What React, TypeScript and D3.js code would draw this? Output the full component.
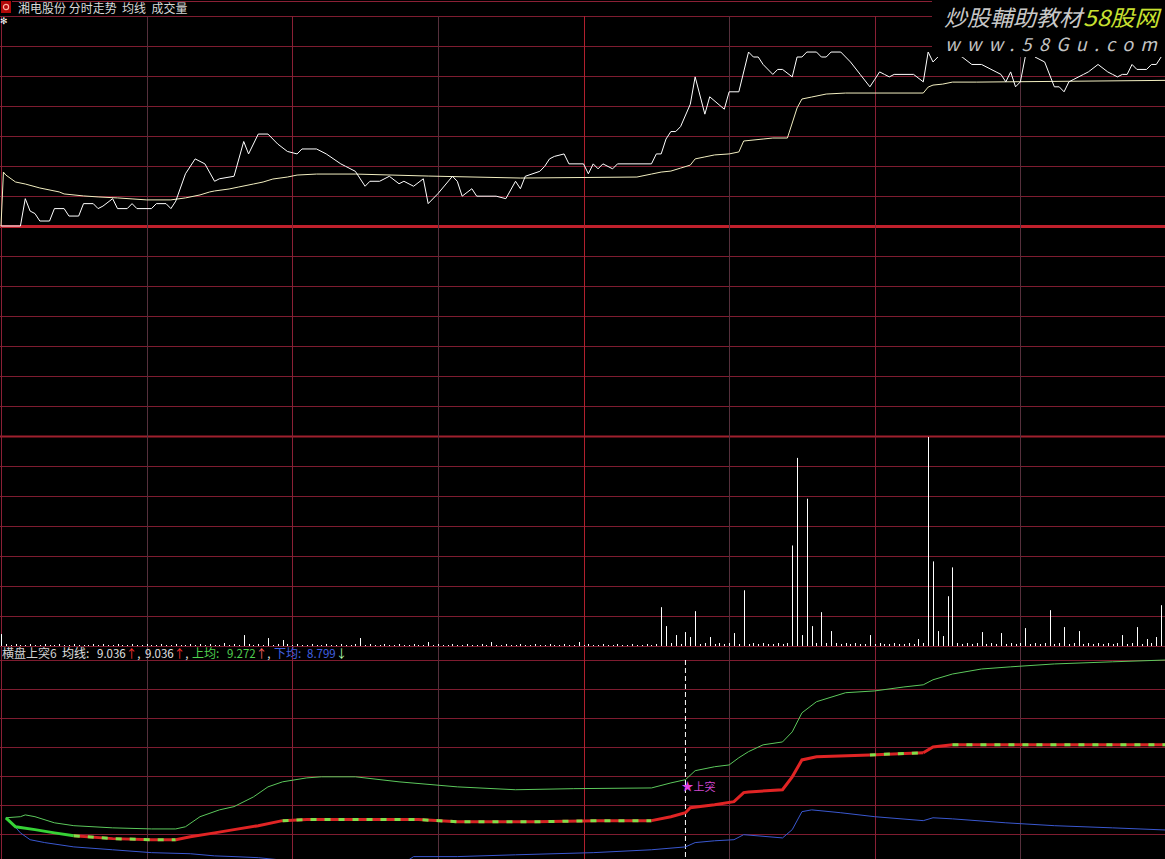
import React from 'react';
import * as d3 from 'd3';

const width = 1165;
const height = 859;

const title = '湘电股份 分时走势  均线  成交量';
const prevClose = 8.45;

// [minute, price]
const pricePoints: [number, number][] = [
  [0, 8.45], [4, 8.45], [5, 8.56], [6, 8.51], [7, 8.5], [8, 8.47], [10, 8.47], [11, 8.52], [13, 8.52], [14, 8.49],
  [16, 8.49], [17, 8.54], [19, 8.54], [20, 8.52], [21, 8.53], [23, 8.56], [24, 8.52], [26, 8.52], [27, 8.54], [28, 8.52],
  [31, 8.52], [32, 8.54], [34, 8.54], [35, 8.52], [36, 8.55], [38, 8.66], [40, 8.72], [42, 8.7], [44, 8.63], [45, 8.64],
  [48, 8.65], [50, 8.79], [51, 8.74], [53, 8.82], [55, 8.82], [57, 8.78], [59, 8.75], [61, 8.74], [62, 8.76], [65, 8.76],
  [67, 8.74], [70, 8.7], [71, 8.69], [73, 8.67], [75, 8.61], [76, 8.63], [78, 8.63], [80, 8.65], [82, 8.62], [83, 8.63],
  [85, 8.61], [87, 8.64], [88, 8.54], [90, 8.58], [93, 8.65], [94, 8.63], [95, 8.57], [97, 8.6], [98, 8.57], [102, 8.57],
  [104, 8.56], [106, 8.63], [107, 8.6], [108, 8.65], [111, 8.67], [112, 8.69], [113, 8.72], [114, 8.73], [116, 8.74], [117, 8.7],
  [120, 8.7], [121, 8.66], [122, 8.7], [123, 8.68], [124, 8.7], [126, 8.68], [127, 8.7], [134, 8.7], [135, 8.74], [136, 8.74],
  [137, 8.8], [138, 8.83], [139, 8.83], [140, 8.85], [142, 8.94], [143, 9.05], [145, 8.9], [146, 8.97], [149, 8.92], [150, 8.99],
  [152, 8.99], [154, 9.15], [155, 9.13], [156, 9.13], [157, 9.1], [159, 9.06], [160, 9.08], [161, 9.08], [163, 9.05], [164, 9.13],
  [165, 9.13], [166, 9.15], [168, 9.15], [169, 9.13], [170, 9.13], [171, 9.15], [173, 9.15], [175, 9.11], [177, 9.06], [179, 9.01],
  [180, 9.04], [181, 9.07], [182, 9.06], [183, 9.05], [184, 9.06], [188, 9.06], [190, 9.03], [191, 9.15], [192, 9.11], [193, 9.13],
  [195, 9.16], [198, 9.13], [200, 9.1], [202, 9.1], [205, 9.07], [206, 9.06], [207, 9.03], [208, 9.07], [209, 9.01], [210, 9.03],
  [211, 9.13], [212, 9.16], [213, 9.13], [215, 9.11], [217, 9.01], [218, 9.01], [219, 8.99], [220, 9.03], [221, 9.04], [223, 9.06],
  [224, 9.07], [226, 9.1], [228, 9.07], [229, 9.06], [230, 9.05], [231, 9.06], [232, 9.06], [233, 9.1], [234, 9.08], [236, 9.08],
  [237, 9.1], [238, 9.1], [239, 9.13],
];

const avgPoints: [number, number][] = [
  [0, 8.45], [0.5, 8.667], [1, 8.655], [3, 8.627], [5, 8.619], [8, 8.603], [12, 8.587], [13, 8.579], [17, 8.571], [20, 8.567],
  [24, 8.563], [27, 8.559], [30, 8.555], [35, 8.555], [38, 8.563], [41, 8.575], [43, 8.587], [44, 8.591], [47, 8.599], [49, 8.607],
  [52, 8.619], [54, 8.627], [56, 8.639], [59, 8.647], [61, 8.655], [65, 8.659], [73, 8.659], [88, 8.651], [107, 8.643], [131, 8.647],
  [134, 8.659], [136, 8.667], [138, 8.671], [140, 8.683], [142, 8.695], [143, 8.72], [145, 8.728], [147, 8.736], [150, 8.74], [152, 8.748],
  [153, 8.792], [157, 8.8], [159, 8.804], [162, 8.804], [164, 8.925], [165, 8.961], [167, 8.969], [170, 8.981], [174, 8.985], [190, 8.985],
  [191, 9.009], [192, 9.017], [194, 9.021], [196, 9.029], [201, 9.029], [240, 9.036],
];

// volume per minute
const volumes = [
  240, 40, 20, 40, 20, 20, 40, 20, 20, 40, 20, 20, 40, 20, 20, 40, 20, 20, 20, 40,
  20, 40, 20, 20, 40, 20, 20, 40, 20, 20, 40, 20, 20, 40, 20, 20, 40, 20, 20, 40,
  20, 40, 20, 40, 20, 20, 60, 20, 40, 20, 220, 40, 20, 40, 20, 160, 20, 40, 120, 40,
  20, 40, 20, 20, 40, 20, 20, 40, 20, 20, 40, 20, 20, 40, 160, 20, 40, 20, 20, 40,
  20, 20, 40, 20, 20, 40, 20, 20, 80, 20, 40, 20, 20, 40, 20, 20, 40, 20, 20, 40,
  20, 80, 20, 20, 40, 20, 20, 40, 20, 20, 40, 20, 20, 40, 20, 20, 40, 20, 20, 80,
  20, 40, 20, 20, 40, 20, 20, 40, 20, 20, 40, 20, 20, 40, 20, 40, 780, 400, 60, 220,
  40, 280, 180, 700, 40, 60, 180, 40, 60, 40, 60, 260, 40, 1120, 40, 60, 40, 60, 40, 40,
  60, 40, 60, 2020, 3780, 220, 2960, 400, 60, 680, 60, 300, 60, 40, 60, 40, 60, 40, 40, 220,
  40, 60, 40, 40, 60, 40, 40, 60, 40, 140, 60, 4200, 1700, 300, 200, 1000, 1580, 60, 40, 60,
  40, 60, 280, 40, 60, 40, 260, 40, 60, 40, 60, 360, 40, 60, 40, 60, 720, 40, 60, 380,
  40, 60, 300, 40, 60, 40, 60, 40, 60, 40, 60, 220, 40, 60, 380, 40, 140, 60, 180, 820,
  60,
];

// 横盘上突6 indicator
const upperBand: [number, number][] = [
  [1, 8.833], [4, 8.836], [5, 8.841], [7, 8.836], [11, 8.819], [15, 8.811], [23, 8.805], [31, 8.802], [36, 8.802], [38, 8.808],
  [41, 8.836], [45, 8.855], [48, 8.864], [52, 8.891], [55, 8.919], [58, 8.933], [63, 8.944], [66, 8.947], [73, 8.947], [82, 8.933],
  [94, 8.919], [106, 8.911], [118, 8.914], [134, 8.916], [138, 8.93], [141, 8.939], [143, 8.964], [147, 8.975], [150, 8.98], [152, 9.0],
  [154, 9.017], [157, 9.036], [161, 9.044], [163, 9.072], [165, 9.125], [168, 9.156], [174, 9.181], [180, 9.186], [186, 9.197], [190, 9.203],
  [192, 9.217], [196, 9.233], [202, 9.247], [208, 9.253], [217, 9.261], [229, 9.267], [240, 9.272],
];

const midLine: [number, number][] = [
  [1, 8.833], [3, 8.808], [7, 8.8], [11, 8.791], [15, 8.783], [23, 8.775], [31, 8.772], [36, 8.772], [39, 8.78], [44, 8.791],
  [48, 8.8], [53, 8.811], [58, 8.825], [63, 8.828], [86, 8.828], [94, 8.822], [110, 8.822], [123, 8.825], [134, 8.825], [138, 8.836],
  [141, 8.847], [142, 8.861], [147, 8.869], [151, 8.878], [153, 8.903], [154, 8.905], [161, 8.911], [163, 8.947], [165, 8.994], [168, 9.003],
  [179, 9.008], [190, 9.014], [192, 9.03], [196, 9.036], [240, 9.036],
];

const lowerBand: [number, number][] = [
  [1, 8.833], [2, 8.822], [4, 8.791], [6, 8.772], [9, 8.764], [15, 8.752], [23, 8.744], [31, 8.736], [39, 8.733], [44, 8.727],
  [48, 8.725], [53, 8.722], [61, 8.711], [72, 8.705], [84, 8.716], [85, 8.725], [94, 8.725], [106, 8.73], [122, 8.736], [134, 8.744],
  [141, 8.752], [143, 8.764], [147, 8.769], [151, 8.772], [153, 8.786], [161, 8.777], [163, 8.8], [165, 8.85], [167, 8.855], [173, 8.847],
  [180, 8.836], [190, 8.825], [192, 8.833], [196, 8.83], [207, 8.819], [217, 8.811], [229, 8.805], [240, 8.799],
];

// colour of the mid line by direction
const midSegments = [
  { from: 1, to: 15, kind: 'down' },
  { from: 15, to: 36, kind: 'flat' },
  { from: 36, to: 58, kind: 'up' },
  { from: 58, to: 134, kind: 'flat' },
  { from: 134, to: 179, kind: 'up' },
  { from: 179, to: 190, kind: 'flat' },
  { from: 190, to: 196, kind: 'up' },
  { from: 196, to: 240, kind: 'flat' },
];

const breakoutMinute = 141;
const gridMinutes = [0, 30, 60, 90, 120, 150, 180, 210, 240];

const font = '"Noto Sans CJK SC", "DejaVu Sans", sans-serif';

function App() {
  const x = d3.scaleLinear().domain([0, 240]).range([1, 1166]);
  const yPrice = d3.scaleLinear().domain([prevClose * 0.9, prevClose * 1.1]).range([436, 16]);
  const yVol = d3.scaleLinear().domain([0, 4200]).range([646, 437]);
  const yInd = d3.scaleLinear().domain([8.799, 9.272]).range([830, 660]);

  const priceLine = d3.line<[number, number]>().x(d => x(d[0])).y(d => yPrice(d[1]));
  const indLine = d3.line<[number, number]>().x(d => x(d[0])).y(d => yInd(d[1]));

  const rows = d3.range(0, 22).map(k => 16 + 30 * k);
  const lowRows = d3.range(0, 7).map(k => 660 + 29 * k);

  const last = midLine[midLine.length - 1][1].toFixed(3);
  const lastUp = upperBand[upperBand.length - 1][1].toFixed(3);
  const lastLow = lowerBand[lowerBand.length - 1][1].toFixed(3);

  return (
    <svg width={width} height={height} style={{ position: 'fixed', left: 0, top: 0, display: 'block' }}>
      <rect width={width} height={height} fill="#000" />

      {/* grid */}
      <line x1={0} x2={width} y1={1.5} y2={1.5} stroke="#8a2035" />
      {rows.map((y, i) => (
        <line key={'h' + i} x1={0} x2={width} y1={y + 0.5} y2={y + 0.5}
          stroke={i === 7 ? '#c0202c' : i === 14 ? '#a0202e' : '#7e1c30'}
          strokeWidth={i === 7 ? 3 : i === 14 ? 2 : 1} />
      ))}
      {lowRows.map((y, i) => (
        <line key={'l' + i} x1={0} x2={width} y1={y + 0.5} y2={y + 0.5} stroke="#7e1c30" />
      ))}
      {gridMinutes.map((m, i) => (
        <line key={'v' + i} x1={Math.round(x(m)) + 0.5} x2={Math.round(x(m)) + 0.5} y1={16} y2={height}
          stroke={i === 4 ? '#b0202e' : i % 2 === 0 ? '#8a2035' : '#55303c'} />
      ))}

      {/* volume */}
      {volumes.map((v, i) => (
        <line key={'b' + i} x1={Math.round(x(i)) + 0.5} x2={Math.round(x(i)) + 0.5}
          y1={yVol(0)} y2={yVol(v)} stroke="#fff" strokeWidth={1} />
      ))}

      {/* price & average */}
      <path d={priceLine(avgPoints) || ''} fill="none" stroke="#f2eec0" strokeWidth={1} />
      <path d={priceLine(pricePoints) || ''} fill="none" stroke="#ffffff" strokeWidth={1} />

      {/* indicator */}
      <line x1={x(breakoutMinute)} x2={x(breakoutMinute)} y1={660} y2={height}
        stroke="#fff" strokeDasharray="5 3" />
      <path d={indLine(upperBand) || ''} fill="none" stroke="#5cc85c" strokeWidth={1} />
      <path d={indLine(lowerBand) || ''} fill="none" stroke="#3a58d0" strokeWidth={1} />
      {midSegments.map((s, i) => {
        const pts = midLine.filter(p => p[0] >= s.from && p[0] <= s.to);
        const d = indLine(pts) || '';
        if (s.kind === 'down') return <path key={'m' + i} d={d} fill="none" stroke="#36d236" strokeWidth={3} />;
        if (s.kind === 'up') return <path key={'m' + i} d={d} fill="none" stroke="#e02424" strokeWidth={3} />;
        return (
          <g key={'m' + i}>
            <path d={d} fill="none" stroke="#d62424" strokeWidth={3} />
            <path d={d} fill="none" stroke="#7ee04a" strokeWidth={3} strokeDasharray="6 8" />
          </g>
        );
      })}
      <text x={x(breakoutMinute) - 4} y={791} fill="#e040e0" fontSize={12} fontFamily={font}>★</text>
      <text x={x(breakoutMinute) + 8} y={791} fill="#d048d0" fontSize={11} fontFamily={font}>上突</text>

      {/* lower header */}
      <g fontSize={12} fontFamily={font}>
        <text x={2} y={658} fill="#d0d0d0">横盘上突6</text>
        <text x={62} y={658} fill="#e0e0e0">均线:</text>
        <text x={97} y={658} fill="#e0e0e0" fontSize={11.5}>{last}<tspan fill="#ff3030">↑</tspan>,</text>
        <text x={145} y={658} fill="#e0e0e0" fontSize={11.5}>{last}<tspan fill="#ff3030">↑</tspan>,</text>
        <text x={192} y={658} fill="#50d050">上均:</text>
        <text x={227} y={658} fill="#50d050" fontSize={11.5}>{lastUp}<tspan fill="#ff6060">↑</tspan><tspan fill="#e0e0e0">,</tspan></text>
        <text x={274} y={658} fill="#4060e0">下均:</text>
        <text x={307} y={658} fill="#4060e0" fontSize={11.5}>{lastLow}<tspan fill="#b0ffb0">↓</tspan></text>
      </g>

      {/* top header */}
      <rect x={0} y={0} width={12} height={14} fill="#000" />
      <rect x={1} y={1} width={10} height={12} fill="#b00808" />
      <circle cx={6} cy={7} r={2.6} fill="none" stroke="#ffb0a0" strokeWidth={1.2} />
      <text x={0} y={24} fill="#fff" fontSize={9} fontFamily={font}>✻</text>
      <text x={18} y={12.5} fill="#d8d8d8" fontSize={12} fontFamily={font} style={{ whiteSpace: 'pre' }}>{title}</text>

      {/* watermark */}
      <rect x={932} y={0} width={233} height={57} fill="#000" />
      <text x={944} y={26} fill="#c8c8c8" fontSize={22} fontStyle="italic" fontFamily={font}
        textLength={138} lengthAdjust="spacingAndGlyphs">炒股輔助教材</text>
      <text x={1083} y={26} fill="#c8e030" fontSize={22} fontStyle="italic" fontFamily={font}
        textLength={76} lengthAdjust="spacingAndGlyphs">58股网</text>
      <text x={945} y={51} fill="#c4c4c4" fontSize={18} fontStyle="italic" fontFamily={font}
        textLength={212} lengthAdjust="spacing">www.58Gu.com</text>
    </svg>
  );
}

export default App;
